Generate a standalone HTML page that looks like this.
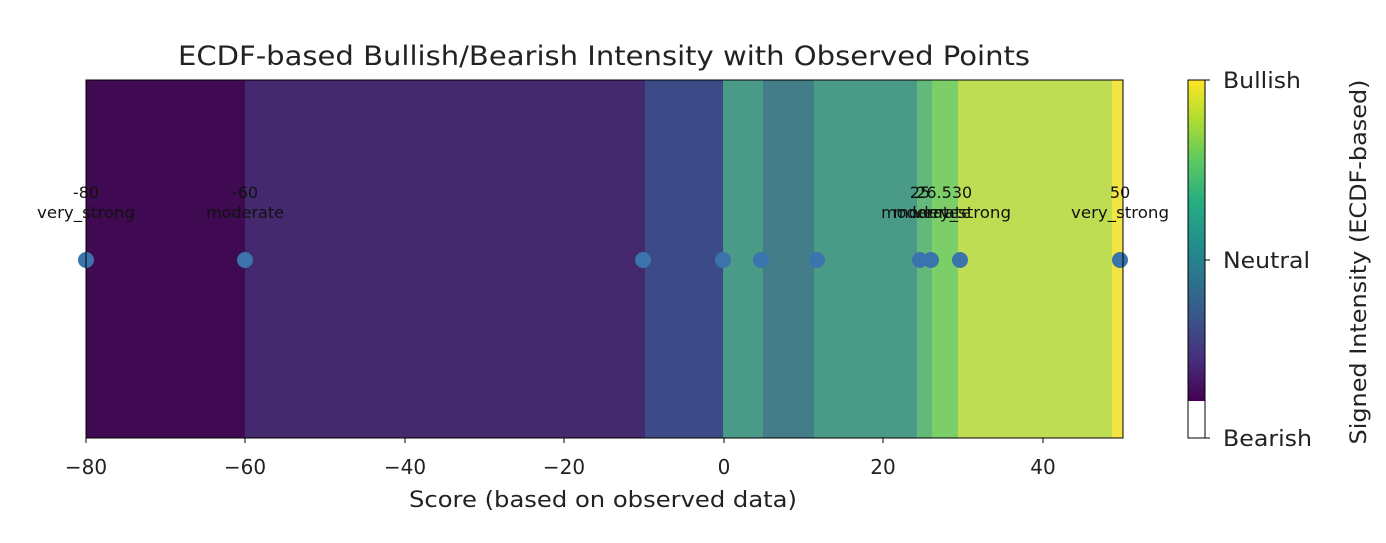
<!DOCTYPE html>
<html><head><meta charset="utf-8"><style>body{margin:0;background:#fff}</style></head><body>
<svg width="1386" height="538" xmlns="http://www.w3.org/2000/svg" font-family="DejaVu Sans, Liberation Sans, sans-serif">
<text x="604" y="65" font-size="27" text-anchor="middle" fill="#222" textLength="852" lengthAdjust="spacingAndGlyphs">ECDF-based Bullish/Bearish Intensity with Observed Points</text>
<g>
<rect x="86" y="80" width="159" height="358" fill="#400a52"/>
<rect x="245" y="80" width="400" height="358" fill="#45296f"/>
<rect x="645" y="80" width="78" height="358" fill="#3c4b87"/>
<rect x="723" y="80" width="40" height="358" fill="#4a9a88"/>
<rect x="763" y="80" width="51" height="358" fill="#427d88"/>
<rect x="814" y="80" width="103" height="358" fill="#4a9a88"/>
<rect x="917" y="80" width="15" height="358" fill="#63b979"/>
<rect x="932" y="80" width="26" height="358" fill="#7ccf68"/>
<rect x="958" y="80" width="154" height="358" fill="#bedd52"/>
<rect x="1112" y="80" width="11" height="358" fill="#f1e443"/>
</g>
<g fill="#3b74ad">
<circle cx="86" cy="260" r="8"/><circle cx="245" cy="260" r="8"/><circle cx="643" cy="260" r="8"/>
<circle cx="723" cy="260" r="8"/><circle cx="761" cy="260" r="8"/><circle cx="817" cy="260" r="8"/>
<circle cx="920" cy="260" r="8"/><circle cx="931" cy="260" r="8"/><circle cx="960" cy="260" r="8"/>
<circle cx="1120" cy="260" r="8"/>
</g>
<g font-size="16" fill="#111" text-anchor="middle">
<text x="86" y="198">-80</text><text x="86" y="218" textLength="98" lengthAdjust="spacingAndGlyphs">very_strong</text>
<text x="245" y="198">-60</text><text x="245" y="218">moderate</text>
<text x="920" y="198">25</text><text x="920" y="218">moderate</text>
<text x="934" y="198">26.5</text><text x="932" y="218">moderate</text>
<text x="962" y="198">30</text><text x="962" y="218" textLength="98" lengthAdjust="spacingAndGlyphs">very_strong</text>
<text x="1120" y="198">50</text><text x="1120" y="218" textLength="98" lengthAdjust="spacingAndGlyphs">very_strong</text>
</g>
<rect x="86" y="80" width="1037" height="358" fill="none" stroke="#000" stroke-width="1"/>
<g stroke="#000"><line x1="86" y1="438" x2="86" y2="443"/><line x1="245" y1="438" x2="245" y2="443"/><line x1="405" y1="438" x2="405" y2="443"/><line x1="564" y1="438" x2="564" y2="443"/><line x1="724" y1="438" x2="724" y2="443"/><line x1="883" y1="438" x2="883" y2="443"/><line x1="1043" y1="438" x2="1043" y2="443"/></g>
<g font-size="20" fill="#222" text-anchor="middle">
<text x="86" y="474">−80</text><text x="245" y="474">−60</text><text x="405" y="474">−40</text><text x="564" y="474">−20</text><text x="724" y="474">0</text><text x="883" y="474">20</text><text x="1043" y="474">40</text>
<text x="603" y="507" font-size="22" textLength="388" lengthAdjust="spacingAndGlyphs">Score (based on observed data)</text>
</g>
<defs><linearGradient id="v" x1="0" y1="1" x2="0" y2="0">
<stop offset="0" stop-color="#440154"/><stop offset="0.125" stop-color="#472d7b"/><stop offset="0.25" stop-color="#3b528b"/><stop offset="0.375" stop-color="#2c728e"/><stop offset="0.5" stop-color="#21918c"/><stop offset="0.625" stop-color="#28ae80"/><stop offset="0.75" stop-color="#5ec962"/><stop offset="0.875" stop-color="#addc30"/><stop offset="1" stop-color="#fde725"/>
</linearGradient></defs>
<rect x="1188" y="80" width="17" height="321" fill="url(#v)"/>
<rect x="1188" y="80" width="17" height="358" fill="none" stroke="#000"/>
<g stroke="#000"><line x1="1205" y1="80" x2="1210" y2="80"/><line x1="1205" y1="260" x2="1210" y2="260"/><line x1="1205" y1="438" x2="1210" y2="438"/></g>
<g font-size="22" fill="#222">
<text x="1223" y="88" textLength="78" lengthAdjust="spacingAndGlyphs">Bullish</text><text x="1223" y="268" textLength="87" lengthAdjust="spacingAndGlyphs">Neutral</text><text x="1223" y="446" textLength="89" lengthAdjust="spacingAndGlyphs">Bearish</text>
</g>
<text transform="translate(1366,262) rotate(-90)" font-size="22" fill="#222" text-anchor="middle" textLength="365" lengthAdjust="spacingAndGlyphs">Signed Intensity (ECDF-based)</text>
</svg>
</body></html>
